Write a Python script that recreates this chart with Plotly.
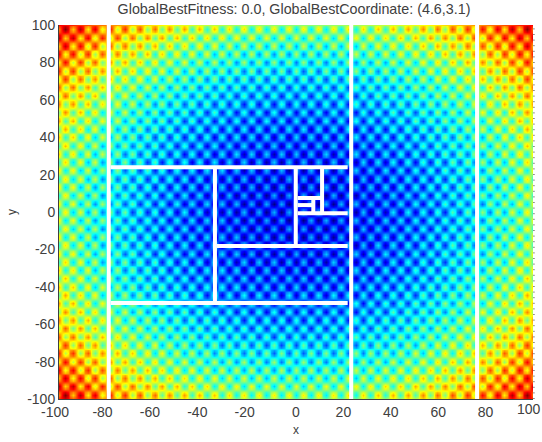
import plotly.graph_objects as go
import numpy as np

TITLE = "GlobalBestFitness: 0.0, GlobalBestCoordinate: (4.6,3.1)"

# sample positions along x, outward from the centre, one third of a spot spacing apart
x_half = [1.05, 2.09, 3.14, 4.19, 5.24, 6.28, 7.33, 8.38, 9.42, 10.47, 11.52, 12.57, 13.61, 14.66, 15.71, 16.76,
          17.80, 18.85, 19.90, 20.94, 21.99, 23.04, 24.09, 25.13, 26.18, 27.23, 28.27, 29.32, 30.37, 31.42, 32.46,
          33.51, 34.56, 35.60, 36.65, 37.70, 38.75, 39.79, 40.84, 41.89, 42.94, 43.98, 45.03, 46.08, 47.12, 48.17,
          49.22, 50.27, 51.31, 52.36, 53.41, 54.45, 55.50, 56.55, 57.60, 58.64, 59.69, 60.74, 61.78, 62.83, 63.88,
          64.93, 65.97, 67.02, 68.07, 69.12, 70.16, 71.21, 72.26, 73.30, 74.35, 75.40, 76.45, 77.49, 78.54, 79.59,
          80.63, 81.68, 82.73, 83.78, 84.82, 85.87, 86.92, 87.96, 89.01, 90.06, 91.11, 92.15, 93.20, 94.25, 95.30,
          96.34, 97.39, 98.44, 99.48, 100.53]
# background level along x at those positions
x_bowl_half = [0.00, 0.00, 0.00, 0.00, 0.01, 0.01, 0.01, 0.02, 0.02, 0.03, 0.03, 0.04, 0.05, 0.05, 0.06, 0.07,
               0.08, 0.09, 0.10, 0.11, 0.12, 0.13, 0.15, 0.16, 0.17, 0.19, 0.20, 0.21, 0.23, 0.25, 0.26,
               0.28, 0.30, 0.32, 0.34, 0.36, 0.38, 0.40, 0.42, 0.44, 0.46, 0.48, 0.51, 0.53, 0.56, 0.58,
               0.61, 0.63, 0.66, 0.69, 0.71, 0.74, 0.77, 0.80, 0.83, 0.86, 0.89, 0.92, 0.95, 0.99, 1.02,
               1.05, 1.09, 1.12, 1.16, 1.19, 1.23, 1.27, 1.31, 1.34, 1.38, 1.42, 1.46, 1.50, 1.54, 1.58,
               1.63, 1.67, 1.71, 1.75, 1.80, 1.84, 1.89, 1.93, 1.98, 2.03, 2.08, 2.12, 2.17, 2.22, 2.27,
               2.32, 2.37, 2.42, 2.47, 2.53]
# spot strength along x at those positions
x_spot_half = [.5, -.5, -1, -.5, .5, 1, .5, -.5, -1, -.5, .5, 1, .5, -.5, -1, -.5, .5, 1, .5, -.5, -1, -.5, .5, 1,
               .5, -.5, -1, -.5, .5, 1, .5, -.5, -1, -.5, .5, 1, .5, -.5, -1, -.5, .5, 1, .5, -.5, -1, -.5, .5, 1,
               .5, -.5, -1, -.5, .5, 1, .5, -.5, -1, -.5, .5, 1, .5, -.5, -1, -.5, .5, 1, .5, -.5, -1, -.5, .5, 1,
               .5, -.5, -1, -.5, .5, 1, .5, -.5, -1, -.5, .5, 1, .5, -.5, -1, -.5, .5, 1, .5, -.5, -1, -.5, .5, 1]

# sample positions along y
y_half = [1.48, 2.96, 4.44, 5.92, 7.40, 8.89, 10.37, 11.85, 13.33, 14.81, 16.29, 17.77, 19.25, 20.73, 22.21, 23.70,
          25.18, 26.66, 28.14, 29.62, 31.10, 32.58, 34.06, 35.54, 37.02, 38.51, 39.99, 41.47, 42.95, 44.43, 45.91,
          47.39, 48.87, 50.35, 51.83, 53.32, 54.80, 56.28, 57.76, 59.24, 60.72, 62.20, 63.68, 65.16, 66.64, 68.13,
          69.61, 71.09, 72.57, 74.05, 75.53, 77.01, 78.49, 79.97, 81.45, 82.94, 84.42, 85.90, 87.38, 88.86, 90.34,
          91.82, 93.30, 94.78, 96.26, 97.75, 99.23, 100.71, 102.19]
y_bowl_half = [0.00, 0.00, 0.00, 0.01, 0.01, 0.02, 0.03, 0.04, 0.04, 0.05, 0.07, 0.08, 0.09, 0.11, 0.12, 0.14,
               0.16, 0.18, 0.20, 0.22, 0.24, 0.27, 0.29, 0.32, 0.34, 0.37, 0.40, 0.43, 0.46, 0.49, 0.53,
               0.56, 0.60, 0.63, 0.67, 0.71, 0.75, 0.79, 0.83, 0.88, 0.92, 0.97, 1.01, 1.06, 1.11, 1.16,
               1.21, 1.26, 1.32, 1.37, 1.43, 1.48, 1.54, 1.60, 1.66, 1.72, 1.78, 1.84, 1.91, 1.97, 2.04,
               2.11, 2.18, 2.25, 2.32, 2.39, 2.46, 2.54, 2.61]
y_spot_half = [.5, -.5, -1, -.5, .5, 1, .5, -.5, -1, -.5, .5, 1, .5, -.5, -1, -.5, .5, 1, .5, -.5, -1, -.5, .5, 1,
               .5, -.5, -1, -.5, .5, 1, .5, -.5, -1, -.5, .5, 1, .5, -.5, -1, -.5, .5, 1, .5, -.5, -1, -.5, .5, 1,
               .5, -.5, -1, -.5, .5, 1, .5, -.5, -1, -.5, .5, 1, .5, -.5, -1, -.5, .5, 1, .5, -.5, -1]

# partition lines (x0, y0, x1, y1) in axis units
seg_x0 = [-79.0, 23.3, 76.4, -78.2, -78.2, -34.2, -0.1, -33.4, 0.7, 11.0, 0.7, 7.3, 0.7]
seg_y0 = [-100, -100, -100, 23.9, -48.7, 23.9, 23.9, -18.2, -0.7, 23.9, 7.5, 7.5, 3.7]
seg_x1 = [-79.0, 23.3, 76.4, 21.8, 21.8, -34.2, -0.1, 21.8, 21.8, 11.0, 11.0, 7.3, 7.3]
seg_y1 = [100, 100, 100, 23.9, -48.7, -48.7, -18.2, -18.2, -0.7, -0.7, 7.5, -0.7, 3.7]

x_ticks = [-100, -80, -60, -40, -20, 0, 20, 40, 60, 80]
y_ticks = [-100, -80, -60, -40, -20, 0, 20, 40, 60, 80, 100]

x = np.array([-v for v in x_half[::-1]] + [0.0] + x_half)
xb = np.array(x_bowl_half[::-1] + [0.0] + x_bowl_half)
xs = np.array(x_spot_half[::-1] + [1] + x_spot_half)
y = np.array([-v for v in y_half[::-1]] + [0.0] + y_half)
yb = np.array(y_bowl_half[::-1] + [0.0] + y_bowl_half)
ys = np.array(y_spot_half[::-1] + [1] + y_spot_half)
z = 1 + yb[:, None] + xb[None, :] - ys[:, None] * xs[None, :]

JET = [[0, "#000080"], [0.125, "#0000ff"], [0.375, "#00ffff"], [0.625, "#ffff00"], [0.875, "#ff0000"], [1, "#800000"]]

fig = go.Figure()
fig.add_trace(go.Heatmap(x=x, y=y, z=z, colorscale=JET, zmin=0, zmax=6.8, zsmooth="best",
                         showscale=False, hoverinfo="skip"))
for a, b, c, d in zip(seg_x0, seg_y0, seg_x1, seg_y1):
    fig.add_trace(go.Scatter(x=[a, c], y=[b, d], mode="lines", showlegend=False, hoverinfo="skip",
                             line=dict(color="white", width=4)))

FAMILY = "Liberation Sans, Arial, sans-serif"
axis_font = dict(family=FAMILY, size=14, color="#404040")
label_font = dict(family=FAMILY, size=12, color="#404040")
x_labels = [f"{v}\u00a0\u00a0" if v < 0 else str(v) for v in x_ticks]
fig.update_layout(
    width=542, height=442, margin=dict(l=59, r=9, t=25, b=43, autoexpand=False),
    paper_bgcolor="white", plot_bgcolor="white", showlegend=False,
    font=axis_font,
    title=dict(text=TITLE, x=294 / 542, xanchor="center", y=1 - 9 / 442, yanchor="middle",
               font=dict(family=FAMILY, size=14.3, color="#404040")),
    xaxis=dict(range=[-100, 100], tickmode="array", tickvals=x_ticks, ticktext=x_labels,
               showgrid=False, zeroline=False, showline=True, linecolor="#404040", linewidth=1,
               ticks="", tickfont=axis_font, automargin=False),
    yaxis=dict(range=[-100, 100], tickmode="array", tickvals=y_ticks, ticktext=[str(v) for v in y_ticks],
               showgrid=False, zeroline=False, showline=True, linecolor="#404040", linewidth=1,
               ticks="", tickfont=axis_font, automargin=False),
    shapes=[dict(type="line", xref="paper", yref="paper", x0=1.002, x1=1.002, y0=0, y1=1,
                 line=dict(color="#333333", width=1, dash="1px,4.6px"))],
    annotations=[
        dict(text="100", xref="paper", yref="paper", x=1, y=0, yanchor="middle", xanchor="center", yshift=-10,
             xshift=-4, showarrow=False, font=axis_font),
        dict(text="x", xref="paper", yref="paper", x=0.5, y=0, yanchor="middle", xanchor="center", yshift=-31,
             showarrow=False, font=label_font),
        dict(text="y", xref="paper", yref="paper", x=0, y=0.5, yanchor="middle", xanchor="center", xshift=-47,
             textangle=-90, showarrow=False, font=label_font),
    ],
)
fig.write_html("out.html", config={"displayModeBar": False}, post_script="document.body.style.margin='0';")
